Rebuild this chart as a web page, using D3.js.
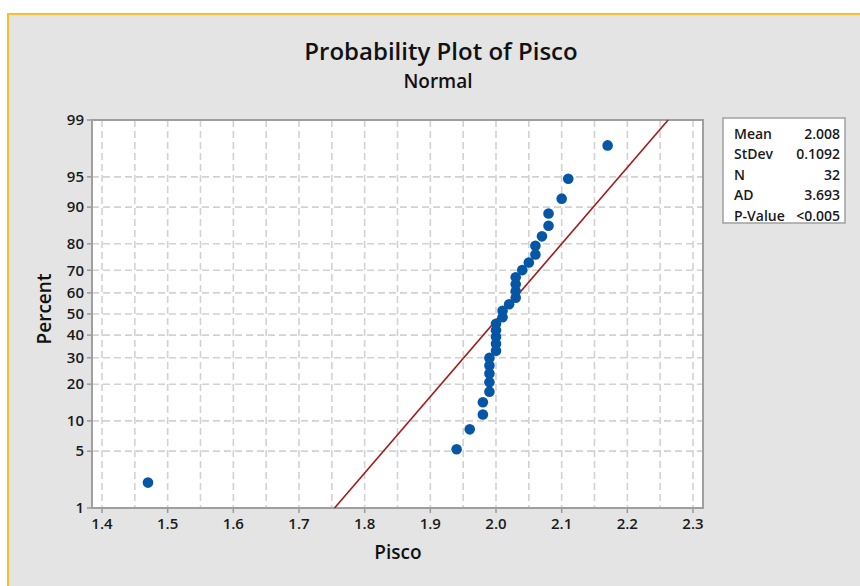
<!DOCTYPE html>
<html>
<head>
<meta charset="utf-8">
<script src="https://cdn.jsdelivr.net/npm/d3@7"></script>
<style>
    body { margin: 0; background: #fff; }
    svg { display: block; font-family: "Open Sans", "Noto Sans", sans-serif; }
    .tick-label { font-size: 15px; fill: #1a1a1a; font-weight: 600; }
    .stat { font-size: 14px; fill: #1a1a1a; font-weight: 600; }
</style>
</head>
<body>
<script>
var piscoValues = [1.47, 1.94, 1.96, 1.98, 1.98,
    1.99, 1.99, 1.99, 1.99, 1.99,
    2.00, 2.00, 2.00, 2.00, 2.00,
    2.01, 2.01, 2.02, 2.03, 2.03, 2.03, 2.03,
    2.04, 2.05, 2.06, 2.06, 2.07, 2.08, 2.08,
    2.10, 2.11, 2.17];
var xTicks = [1.4, 1.5, 1.6, 1.7, 1.8, 1.9, 2.0, 2.1, 2.2, 2.3];
var xGrid = d3.range(1.4, 2.3001, 0.05);
var yTicks = [1, 5, 10, 20, 30, 40, 50, 60, 70, 80, 90, 95, 99];
var statLabels = ["Mean", "StDev", "N", "AD", "P-Value"];
var statValues = ["2.008", "0.1092", "32", "3.693", "<0.005"];

var _width = 860, _height = 586,
    _plot = {left: 92, top: 120, right: 703, bottom: 508};

// inverse normal cdf (Acklam)
function probit(p) {
    var a = [-3.969683028665376e+01, 2.209460984245205e+02, -2.759285104469687e+02,
             1.383577518672690e+02, -3.066479806614716e+01, 2.506628277459239e+00];
    var b = [-5.447609879822406e+01, 1.615858368580409e+02, -1.556989798598866e+02,
             6.680131188771972e+01, -1.328068155288572e+01];
    var c = [-7.784894002430293e-03, -3.223964580411365e-01, -2.400758277161838e+00,
             -2.549671348283937e+00, 4.374664141464968e+00, 2.938163982698783e+00];
    var d = [7.784695709041462e-03, 3.224671290700398e-01, 2.445134137142996e+00,
             3.754408661907416e+00];
    var q, r;
    if (p < 0.02425) {
        q = Math.sqrt(-2 * Math.log(p));
        return (((((c[0]*q+c[1])*q+c[2])*q+c[3])*q+c[4])*q+c[5]) /
               ((((d[0]*q+d[1])*q+d[2])*q+d[3])*q+1);
    }
    if (p > 1 - 0.02425) {
        q = Math.sqrt(-2 * Math.log(1 - p));
        return -(((((c[0]*q+c[1])*q+c[2])*q+c[3])*q+c[4])*q+c[5]) /
                ((((d[0]*q+d[1])*q+d[2])*q+d[3])*q+1);
    }
    q = p - 0.5;
    r = q * q;
    return (((((a[0]*r+a[1])*r+a[2])*r+a[3])*r+a[4])*r+a[5])*q /
           (((((b[0]*r+b[1])*r+b[2])*r+b[3])*r+b[4])*r+1);
}

var _x = d3.scaleLinear().domain([1.4, 2.3]).range([102, 693]);
var _z = d3.scaleLinear().domain([probit(0.01), probit(0.99)]).range([_plot.bottom, _plot.top]);
function _y(pct) { return _z(probit(pct / 100)); }

var svg = d3.select("body").append("svg")
        .attr("width", _width)
        .attr("height", _height);

// panel + yellow selection edge
svg.append("rect")
        .attr("x", 7).attr("y", 13)
        .attr("width", _width - 7).attr("height", _height - 13)
        .style("fill", "#e4e4e4");
svg.append("path")
        .attr("d", "M8," + _height + "V14H" + _width)
        .style("fill", "none")
        .style("stroke", "#f6c02c")
        .style("stroke-width", 2);

svg.append("text")
        .attr("x", 441).attr("y", 60)
        .attr("text-anchor", "middle")
        .style("font-size", "24px").style("font-weight", 600).style("fill", "#111")
        .text("Probability Plot of Pisco");
svg.append("text")
        .attr("x", 438).attr("y", 88)
        .attr("text-anchor", "middle")
        .style("font-size", "19px").style("font-weight", 600).style("fill", "#111")
        .text("Normal");

// plot area
svg.append("rect")
        .attr("x", _plot.left).attr("y", _plot.top)
        .attr("width", _plot.right - _plot.left)
        .attr("height", _plot.bottom - _plot.top)
        .style("fill", "#fff");

var gridG = svg.append("g").attr("class", "grid")
        .style("stroke", "#d2d2d2")
        .style("stroke-width", 1.6)
        .style("stroke-dasharray", "7,4");

gridG.selectAll("line.v").data(xGrid)
        .enter().append("line")
        .attr("class", "v")
        .attr("x1", function (d) { return _x(d); })
        .attr("x2", function (d) { return _x(d); })
        .attr("y1", _plot.top)
        .attr("y2", _plot.bottom);

gridG.selectAll("line.h").data(yTicks.slice(1, -1))
        .enter().append("line")
        .attr("class", "h")
        .attr("x1", _plot.left)
        .attr("x2", _plot.right)
        .attr("y1", function (d) { return _y(d); })
        .attr("y2", function (d) { return _y(d); });

// axes
var axisG = svg.append("g").attr("class", "axes");

axisG.selectAll("line.xt").data(xTicks)
        .enter().append("line")
        .attr("class", "xt")
        .attr("x1", function (d) { return _x(d); })
        .attr("x2", function (d) { return _x(d); })
        .attr("y1", _plot.bottom)
        .attr("y2", _plot.bottom + 5)
        .style("stroke", "#9a9a9a").style("stroke-width", 1.5);

axisG.selectAll("text.xl").data(xTicks)
        .enter().append("text")
        .attr("class", "xl tick-label")
        .attr("x", function (d) { return _x(d); })
        .attr("y", _plot.bottom + 21)
        .attr("text-anchor", "middle")
        .text(function (d) { return d.toFixed(1); });

axisG.selectAll("line.yt").data(yTicks)
        .enter().append("line")
        .attr("class", "yt")
        .attr("x1", _plot.left - 5)
        .attr("x2", _plot.left)
        .attr("y1", function (d) { return _y(d); })
        .attr("y2", function (d) { return _y(d); })
        .style("stroke", "#9a9a9a").style("stroke-width", 1.5);

axisG.selectAll("text.yl").data(yTicks)
        .enter().append("text")
        .attr("class", "yl tick-label")
        .attr("x", _plot.left - 8)
        .attr("y", function (d) { return _y(d); })
        .attr("dy", "0.35em")
        .attr("text-anchor", "end")
        .text(function (d) { return d; });

svg.append("rect")
        .attr("x", _plot.left).attr("y", _plot.top)
        .attr("width", _plot.right - _plot.left)
        .attr("height", _plot.bottom - _plot.top)
        .style("fill", "none")
        .style("stroke", "#9f9f9f")
        .style("stroke-width", 2);

svg.append("text")
        .attr("transform", "translate(51,309) rotate(-90)")
        .attr("text-anchor", "middle")
        .style("font-size", "19px").style("font-weight", 600).style("fill", "#111")
        .text("Percent");
svg.append("text")
        .attr("x", 398).attr("y", 559)
        .attr("text-anchor", "middle")
        .style("font-size", "19px").style("font-weight", 600).style("fill", "#111")
        .text("Pisco");

// fitted normal line
var mean = d3.mean(piscoValues), sd = d3.deviation(piscoValues);
svg.append("line")
        .attr("x1", _x(mean + sd * probit(0.01)))
        .attr("y1", _y(1))
        .attr("x2", _x(mean + sd * probit(0.99)))
        .attr("y2", _y(99))
        .style("stroke", "#a21a1a")
        .style("stroke-width", 1.6);

// points at median ranks
var n = piscoValues.length;
svg.append("g").attr("class", "body")
        .selectAll("circle").data(piscoValues)
        .enter().append("circle")
        .attr("r", 5.3)
        .attr("cx", function (d) { return _x(d); })
        .attr("cy", function (d, i) { return _y(100 * (i + 1 - 0.3) / (n + 0.4)); })
        .style("fill", "#0656a8");

// stats box
var boxG = svg.append("g").attr("class", "stats");
boxG.append("rect")
        .attr("x", 723).attr("y", 118)
        .attr("width", 122).attr("height", 105)
        .style("fill", "#fff")
        .style("stroke", "#a0a0a0")
        .style("stroke-width", 1.5);
boxG.selectAll("text.lab").data(statLabels)
        .enter().append("text")
        .attr("class", "lab stat")
        .attr("x", 734)
        .attr("y", function (d, i) { return 139 + i * 20.4; })
        .text(function (d) { return d; });
boxG.selectAll("text.val").data(statValues)
        .enter().append("text")
        .attr("class", "val stat")
        .attr("x", 840)
        .attr("y", function (d, i) { return 139 + i * 20.4; })
        .attr("text-anchor", "end")
        .text(function (d) { return d; });
</script>
</body>
</html>
